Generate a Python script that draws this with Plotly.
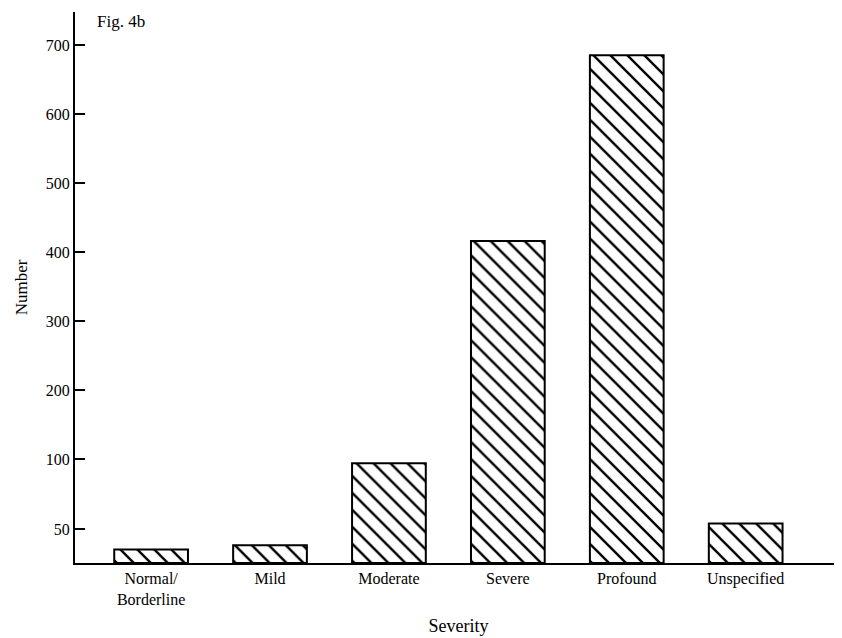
import plotly.graph_objects as go

categories = ["Normal/<br>Borderline", "Mild", "Moderate", "Severe", "Profound", "Unspecified"]
values = [20, 26, 97, 416, 685, 54]
tick_values = [50, 100, 200, 300, 400, 500, 600, 700]
tick_labels = ["50", "100", "200", "300", "400", "500", "600", "700"]


def scale(v):
    # The printed axis is compressed below 100 (0-50 and 50-100 have unequal spacing)
    if v <= 50:
        return v * 34 / 50
    if v <= 100:
        return 34 + (v - 50) * 70 / 50
    return 104 + (v - 100) * 0.69


FONT = "Liberation Serif"

fig = go.Figure(
    go.Bar(
        x=categories,
        y=[scale(v) for v in values],
        width=0.62,
        marker=dict(
            color="white",
            line=dict(color="black", width=2),
            pattern=dict(shape="\\", fgcolor="black", fgopacity=1, bgcolor="white",
                         size=12, solidity=0.2, fillmode="replace"),
        ),
        hovertext=[str(v) for v in values],
    )
)

fig.update_layout(
    width=834,
    height=630,
    paper_bgcolor="white",
    plot_bgcolor="white",
    margin=dict(l=67, r=0, t=4, b=75),
    font=dict(family=FONT, color="black", size=15),
    showlegend=False,
    xaxis=dict(
        type="category",
        range=[-0.64, 5.81],
        automargin=False,
        showline=True,
        linecolor="black",
        linewidth=2,
        ticks="",
        showgrid=False,
        tickfont=dict(size=16),
        title=dict(text="Severity", font=dict(size=18), standoff=12),
    ),
    yaxis=dict(
        range=[0, 551],
        automargin=False,
        tickvals=[scale(v) for v in tick_values],
        ticktext=tick_labels,
        showline=True,
        linecolor="black",
        linewidth=2,
        ticks="inside",
        ticklen=10,
        tickwidth=2,
        tickcolor="black",
        showgrid=False,
        zeroline=False,
        tickfont=dict(size=16),
        title=dict(text="Number", font=dict(size=17), standoff=14),
    ),
    annotations=[
        dict(
            text="Fig. 4b",
            x=0.026,
            y=0.982,
            xref="paper",
            yref="paper",
            xanchor="left",
            yanchor="middle",
            showarrow=False,
            font=dict(family=FONT, size=17),
        )
    ],
)

fig.write_html("out.html")
